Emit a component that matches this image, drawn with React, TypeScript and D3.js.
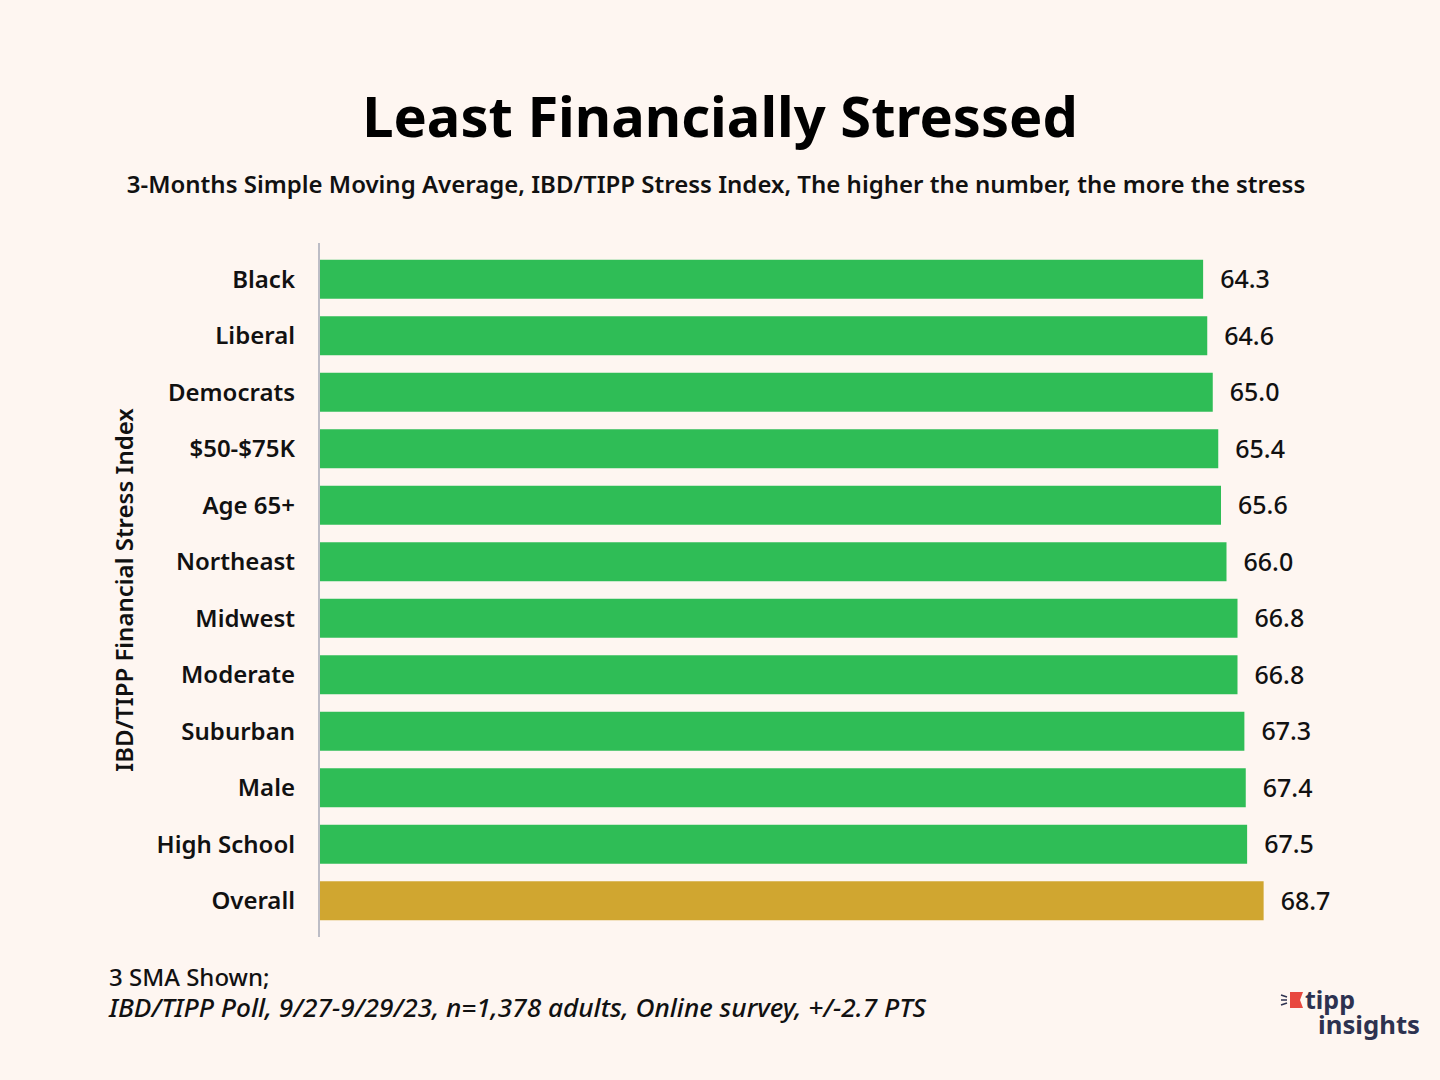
import React from "react";
import * as d3 from "d3";

const categories = ["Black", "Liberal", "Democrats", "$50-$75K", "Age 65+", "Northeast", "Midwest", "Moderate", "Suburban", "Male", "High School", "Overall"];
const values = [64.3, 64.6, 65.0, 65.4, 65.6, 66.0, 66.8, 66.8, 67.3, 67.4, 67.5, 68.7];
const highlight = ["Overall"];

const W = 1440, H = 1080;
const FONT = "'Noto Sans', 'Open Sans', sans-serif";

export default function App() {
  const x = d3.scaleLinear().domain([0, 80]).range([319, 1419]);
  const y = d3.scaleBand<string>().domain(categories).range([243, 937]).paddingInner(0.31).paddingOuter(0.2965);
  return (
    <svg width={W} height={H} style={{ position: "absolute", left: 0, top: 0, background: "#FEF6F1" }}>
      <rect width={W} height={H} fill="#FEF6F1" />
      <text x={720} y={137} textAnchor="middle" fontFamily={FONT} fontWeight={700} fontSize={56} fill="#000">Least Financially Stressed</text>
      <text x={716} y={193} textAnchor="middle" fontFamily={FONT} fontWeight={600} fontSize={24} fill="#111">3-Months Simple Moving Average, IBD/TIPP Stress Index, The higher the number, the more the stress</text>
      {categories.map((c, i) => (
        <g key={c}>
          <rect x={x(0)} y={y(c)} width={x(values[i]) - x(0)} height={y.bandwidth()} fill={highlight.includes(c) ? "#D0A630" : "#2FBD56"} />
          <text x={295} y={(y(c) as number) + y.bandwidth() / 2} dy="0.36em" textAnchor="end" fontFamily={FONT} fontWeight={600} fontSize={24} fill="#111">{c}</text>
          <text x={x(values[i]) + 17} y={(y(c) as number) + y.bandwidth() / 2} dy="0.36em" textAnchor="start" fontFamily={FONT} fontWeight={500} fontSize={25} fill="#111">{values[i].toFixed(1)}</text>
        </g>
      ))}
      <line x1={319} x2={319} y1={243} y2={937} stroke="#BDBDC6" strokeWidth={2} />
      <text transform="translate(133,590) rotate(-90)" textAnchor="middle" fontFamily={FONT} fontWeight={600} fontSize={24} fill="#111">IBD/TIPP Financial Stress Index</text>
      <text x={109} y={986} fontFamily={FONT} fontWeight={500} fontSize={24} fill="#111">3 SMA Shown;</text>
      <text x={109} y={1017} fontFamily={FONT} fontWeight={500} fontStyle="italic" fontSize={25} fill="#111" textLength={817} lengthAdjust="spacingAndGlyphs">IBD/TIPP Poll, 9/27-9/29/23, n=1,378 adults, Online survey, +/-2.7 PTS</text>
      <g>
        <path d="M1290,992 L1303,992 L1300,1000 L1303,1008 L1290,1008 Z" fill="#E8483F" />
        <line x1={1281} y1={995} x2={1287} y2={997} stroke="#2D3250" strokeWidth={1.5} />
        <line x1={1281} y1={1000} x2={1287} y2={1000} stroke="#2D3250" strokeWidth={1.5} />
        <line x1={1281} y1={1005} x2={1287} y2={1003} stroke="#2D3250" strokeWidth={1.5} />
        <text x={1305} y={1009} fontFamily={FONT} fontWeight={700} fontSize={25} fill="#2D3250">tipp</text>
        <text x={1318} y={1034} fontFamily={FONT} fontWeight={700} fontSize={25} fill="#2D3250" textLength={102} lengthAdjust="spacingAndGlyphs">insights</text>
      </g>
    </svg>
  );
}
